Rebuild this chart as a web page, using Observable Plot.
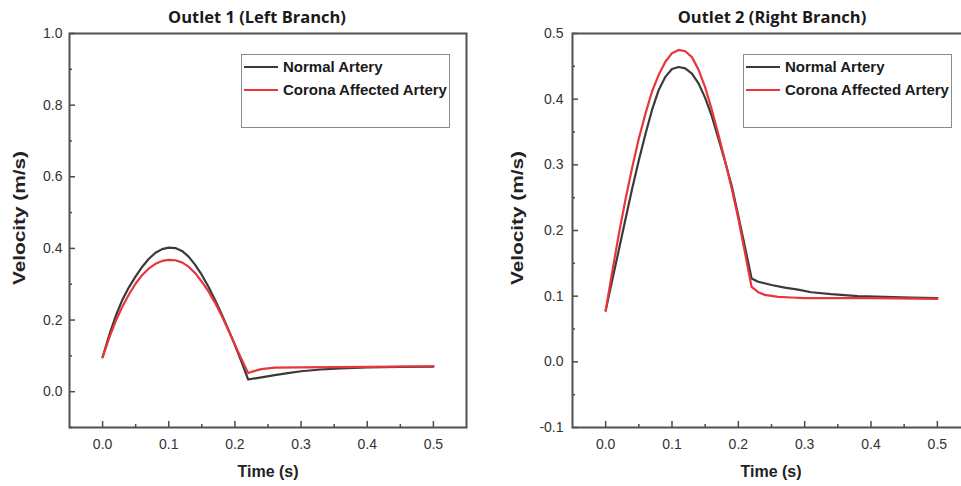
<!DOCTYPE html>
<html><head><meta charset="utf-8">
<script src="https://cdn.jsdelivr.net/npm/d3@7"></script>
<script src="https://cdn.jsdelivr.net/npm/@observablehq/plot@0.6"></script>
<style>
body{margin:0;background:#fff;}
#wrap{position:relative;width:961px;height:486px;overflow:hidden;background:#fff;font-family:"Liberation Sans",Arial,sans-serif;}
.panel{position:absolute;top:0;}
.panel svg{max-width:none !important;}
.title{position:absolute;top:7px;font:700 16.5px "Open Sans",sans-serif;color:#1a1a1a;transform:translateX(-50%);white-space:nowrap;line-height:20px;}
.xlab{position:absolute;top:462px;font:700 16px "Liberation Sans",Arial,sans-serif;color:#222;transform:translateX(-50%);white-space:nowrap;line-height:20px;}
.ylab{position:absolute;font:700 16px "Liberation Sans",Arial,sans-serif;color:#222;white-space:nowrap;line-height:20px;transform:translate(-50%,-50%) rotate(-90deg) scaleX(1.3);}
.legend{position:absolute;border:1px solid #8a8a8a;background:#fff;box-sizing:border-box;}
.legend .row{position:absolute;left:0;display:flex;align-items:center;white-space:nowrap;font:700 15px "Liberation Sans",Arial,sans-serif;color:#1a1a1a;}
.legend .sw{display:inline-block;width:34px;height:0;border-top:2.5px solid;margin-left:2px;margin-right:5px;}
</style>
</head><body>
<div id="wrap"></div>
<script>
// ---------- data ----------
const seriesNames = ["Normal Artery", "Corona Affected Artery"];
const panelTitles = ["Outlet 1 (Left Branch)", "Outlet 2 (Right Branch)"];
const xLabel = "Time (s)";
const yLabel = "Velocity (m/s)";

const tBase = [0,0.01,0.02,0.03,0.04,0.05,0.06,0.07,0.08,0.09,0.10,0.11,0.12,0.13,0.14,0.15,0.16,0.17,0.18,0.19,0.20,0.21,0.22];

// Outlet 1 (Left Branch)
const t1Normal = tBase.concat([0.24,0.26,0.28,0.30,0.33,0.36,0.40,0.45,0.50]);
const v1Normal = [0.096,0.158,0.212,0.257,0.292,0.322,0.349,0.371,0.388,0.398,0.402,0.401,0.393,0.377,0.354,0.326,0.293,0.256,0.216,0.174,0.130,0.083,0.034,
                  0.040,0.046,0.052,0.057,0.062,0.065,0.068,0.069,0.070];
const t1Corona = tBase.concat([0.23,0.24,0.26,0.30,0.40,0.50]);
const v1Corona = [0.096,0.150,0.198,0.238,0.272,0.302,0.326,0.344,0.357,0.365,0.368,0.367,0.361,0.349,0.331,0.307,0.280,0.248,0.212,0.172,0.131,0.091,0.052,
                  0.058,0.063,0.067,0.068,0.069,0.071];

// Outlet 2 (Right Branch)
const t2Normal = tBase.concat([0.23,0.25,0.27,0.29,0.31,0.34,0.38,0.42,0.46,0.50]);
const v2Normal = [0.078,0.125,0.171,0.218,0.264,0.307,0.347,0.384,0.414,0.434,0.446,0.449,0.447,0.439,0.424,0.402,0.374,0.340,0.305,0.268,0.222,0.175,0.127,
                  0.122,0.117,0.113,0.110,0.106,0.103,0.100,0.099,0.098,0.097];
const t2Corona = tBase.concat([0.23,0.24,0.26,0.28,0.30,0.40,0.50]);
const v2Corona = [0.078,0.138,0.195,0.248,0.296,0.340,0.378,0.412,0.437,0.457,0.470,0.475,0.473,0.464,0.445,0.418,0.384,0.346,0.306,0.264,0.218,0.166,0.114,
                  0.106,0.102,0.099,0.098,0.097,0.097,0.096];

// ticks
const xMajor = [0,0.1,0.2,0.3,0.4,0.5];
const xMinor = [0.05,0.15,0.25,0.35,0.45];
const y1Major = [0,0.2,0.4,0.6,0.8,1.0];
const y1Minor = [-0.1,0.1,0.3,0.5,0.7,0.9];
const y2Major = [-0.1,0,0.1,0.2,0.3,0.4,0.5];
const y2Minor = [-0.05,0.05,0.15,0.25,0.35,0.45];

// ---------- drawing ----------
const colors = {normal: "#3a3a3a", corona: "#e8363c"};
const fmt = d => d.toFixed(1);
const rows = (ts, vs) => ts.map((t, i) => ({t, v: vs[i]}));

function panel({yDomain, yMajor, yMinor, nT, nV, cT, cV, width, marginLeft, marginRight, yPad}) {
  return Plot.plot({
    width, height: 486,
    marginLeft, marginRight, marginTop: 33, marginBottom: 59,
    x: {domain: [-0.05, 0.55]},
    y: {domain: yDomain},
    style: {fontFamily: "Liberation Sans, Arial, sans-serif", fontSize: "14px", color: "#333", background: "transparent", overflow: "visible"},
    marks: [
      Plot.line(rows(nT, nV), {x: "t", y: "v", stroke: colors.normal, strokeWidth: 2.2}),
      Plot.line(rows(cT, cV), {x: "t", y: "v", stroke: colors.corona, strokeWidth: 2.2}),
      Plot.axisX(xMajor, {tickSize: 0, tickPadding: 12, tickFormat: fmt, label: null, fontSize: 14}),
      Plot.axisX(xMajor, {tickSize: 6, dy: -6, fill: "none", label: null, stroke: "#4a4a4a", strokeWidth: 1.5}),
      Plot.axisX(xMinor, {tickSize: 3, dy: -3, fill: "none", label: null, stroke: "#4a4a4a", strokeWidth: 1.5}),
      Plot.axisY(yMajor, {tickSize: 0, tickPadding: yPad, tickFormat: fmt, label: null, fontSize: 14}),
      Plot.axisY(yMajor, {tickSize: 6, dx: 6, fill: "none", label: null, stroke: "#4a4a4a", strokeWidth: 1.5}),
      Plot.axisY(yMinor, {tickSize: 3, dx: 3, fill: "none", label: null, stroke: "#4a4a4a", strokeWidth: 1.5}),
      Plot.frame({stroke: "#505050", strokeWidth: 2})
    ]
  });
}

const wrap = document.getElementById("wrap");

function place(el, left, width) {
  const d = document.createElement("div");
  d.className = "panel";
  d.style.left = left + "px";
  d.style.width = width + "px";
  d.appendChild(el);
  wrap.appendChild(d);
}

place(panel({yDomain: [-0.1, 1.0], yMajor: y1Major, yMinor: y1Minor, nT: t1Normal, nV: v1Normal, cT: t1Corona, cV: v1Corona,
             width: 480, marginLeft: 69, marginRight: 14, yPad: 7}), 0, 480);
place(panel({yDomain: [-0.1, 0.5], yMajor: y2Major, yMinor: y2Minor, nT: t2Normal, nV: v2Normal, cT: t2Corona, cV: v2Corona,
             width: 500, marginLeft: 92, marginRight: 10, yPad: 9}), 480, 500);

function addText(cls, text, styles) {
  const d = document.createElement("div");
  d.className = cls;
  d.textContent = text;
  Object.assign(d.style, styles);
  wrap.appendChild(d);
}
addText("title", panelTitles[0], {left: "257px"});
addText("title", panelTitles[1], {left: "772px"});
addText("xlab", xLabel, {left: "268px"});
addText("xlab", xLabel, {left: "771px"});
addText("ylab", yLabel, {left: "20px", top: "218px"});
addText("ylab", yLabel, {left: "518px", top: "218px"});

function legend(left) {
  const box = document.createElement("div");
  box.className = "legend";
  Object.assign(box.style, {left: left + "px", top: "54px", width: "209px", height: "74px"});
  [[seriesNames[0], colors.normal, 3], [seriesNames[1], colors.corona, 26]].forEach(([name, c, top]) => {
    const r = document.createElement("div");
    r.className = "row";
    r.style.top = top + "px";
    const sw = document.createElement("span");
    sw.className = "sw";
    sw.style.borderTopColor = c;
    const tx = document.createElement("span");
    tx.textContent = name;
    r.appendChild(sw); r.appendChild(tx);
    box.appendChild(r);
  });
  wrap.appendChild(box);
}
legend(241);
legend(743);
</script>
</body></html>
